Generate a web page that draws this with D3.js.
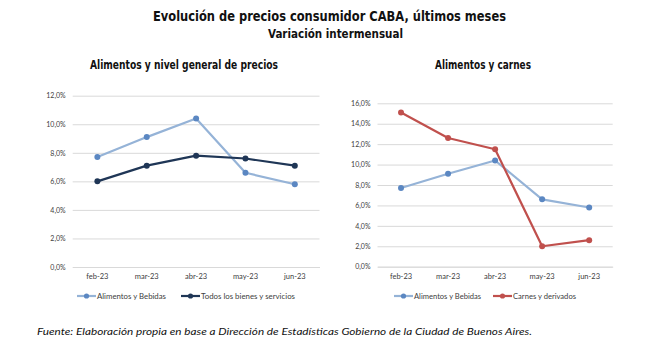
<!DOCTYPE html>
<html>
<head>
<meta charset="utf-8">
<script src="https://cdn.jsdelivr.net/npm/d3@7"></script>
<style>
  html, body { margin: 0; padding: 0; background: #fff; }
  svg { display: block; }
  text { font-family: Lato, "Liberation Sans", Arial, sans-serif; }
  .heading { font-family: "DejaVu Sans Condensed", "DejaVu Sans", sans-serif; font-weight: bold; fill: #111; }
</style>
</head>
<body>
<svg id="chart" width="653" height="345"></svg>
<script>
// Monthly price variation (%), CABA
const months = ["feb-23", "mar-23", "abr-23", "may-23", "jun-23"];
const alimentos = [7.7, 9.1, 10.4, 6.6, 5.8];
const nivelGeneral = [6.0, 7.1, 7.8, 7.6, 7.1];
const carnes = [15.1, 12.6, 11.5, 2.0, 2.6];
const ticksLeft = [0, 2, 4, 6, 8, 10, 12];
const ticksRight = [0, 2, 4, 6, 8, 10, 12, 14, 16];

const titleMain = "Evolución de precios consumidor CABA, últimos meses";
const titleSub = "Variación intermensual";
const titleLeft = "Alimentos y nivel general de precios";
const titleRight = "Alimentos y carnes";
const fuente = "Fuente: Elaboración propia en base a Dirección de Estadísticas Gobierno de la Ciudad de Buenos Aires.";

const COL_ALIM_LINE = "#95b3d7";
const COL_ALIM_MARK = "#5b87c2";
const COL_GEN = "#1f3656";
const COL_CARNES = "#c0504d";

const svg = d3.select("#chart");
const fmt = v => d3.format(".1f")(v).replace(".", ",") + "%";

function fitText(sel, width) {
  sel.attr("textLength", width).attr("lengthAdjust", "spacingAndGlyphs");
}

// Headings
svg.append("text").attr("class", "heading").attr("x", 329.5).attr("y", 20.5)
  .attr("text-anchor", "middle").attr("font-size", 13.5)
  .text(titleMain).call(fitText, 353);
svg.append("text").attr("class", "heading").attr("x", 335.5).attr("y", 37.5)
  .attr("text-anchor", "middle").attr("font-size", 12)
  .text(titleSub).call(fitText, 135);

function panel(opts) {
  const g = svg.append("g");
  const x = d3.scaleBand().domain(months).range(opts.xRange);
  const y = d3.scaleLinear().domain([0, d3.max(opts.ticks)]).range(opts.yRange);

  g.append("text").attr("class", "heading").attr("x", opts.titleX).attr("y", 68.5)
    .attr("text-anchor", "middle").attr("font-size", 11.5)
    .text(opts.title).call(fitText, opts.titleW);

  // Horizontal gridlines via the y axis
  const yAxis = g.append("g")
    .attr("transform", `translate(${opts.xRange[0]},0)`)
    .call(d3.axisLeft(y).tickValues(opts.ticks).tickFormat(fmt)
      .tickSize(-(opts.xRange[1] - opts.xRange[0])).tickPadding(7));
  yAxis.select(".domain").remove();
  yAxis.selectAll(".tick line").attr("stroke", "#d9d9d9").attr("stroke-width", 1);
  yAxis.selectAll(".tick text").attr("font-size", 7).attr("fill", "#404040")
    .attr("font-family", "Lato, 'Liberation Sans', sans-serif");

  // Category axis
  const xAxis = g.append("g")
    .attr("transform", `translate(0,${opts.yRange[0]})`)
    .call(d3.axisBottom(x).tickSize(0).tickPadding(7));
  xAxis.select(".domain").attr("stroke", "#d9d9d9");
  xAxis.selectAll(".tick text").attr("font-size", 7.5).attr("fill", "#404040")
    .attr("font-family", "Lato, 'Liberation Sans', sans-serif");

  const cx = m => x(m) + x.bandwidth() / 2;
  const line = d3.line().x((d, i) => cx(months[i])).y(d => y(d));

  opts.series.forEach(s => {
    g.append("path").datum(s.values).attr("d", line)
      .attr("fill", "none").attr("stroke", s.line).attr("stroke-width", 2.2)
      .attr("stroke-linejoin", "round");
    g.selectAll(null).data(s.values).enter().append("circle")
      .attr("cx", (d, i) => cx(months[i])).attr("cy", d => y(d))
      .attr("r", 3).attr("fill", s.mark);
  });

  // Legend
  const leg = g.append("g");
  opts.series.forEach((s, i) => {
    const lx = opts.legendX[i];
    const ly = 296;
    leg.append("line").attr("x1", lx).attr("x2", lx + 19).attr("y1", ly).attr("y2", ly)
      .attr("stroke", s.line).attr("stroke-width", 2.2);
    leg.append("circle").attr("cx", lx + 9.5).attr("cy", ly).attr("r", 2.6).attr("fill", s.mark);
    leg.append("text").attr("x", lx + 20).attr("y", ly + 2.6).attr("font-size", 7.5)
      .attr("fill", "#404040").text(s.name).call(fitText, s.textW);
  });
}

panel({
  xRange: [72.7, 319.5], yRange: [267, 95.7], ticks: ticksLeft,
  title: titleLeft, titleX: 184, titleW: 188,
  legendX: [77, 181],
  series: [
    { name: "Alimentos y Bebidas", values: alimentos, line: COL_ALIM_LINE, mark: COL_ALIM_MARK, textW: 69 },
    { name: "Todos los bienes y servicios", values: nivelGeneral, line: COL_GEN, mark: COL_GEN, textW: 94 }
  ]
});

panel({
  xRange: [377.5, 612.7], yRange: [266.7, 103.3], ticks: ticksRight,
  title: titleRight, titleX: 483, titleW: 96,
  legendX: [394, 493],
  series: [
    { name: "Alimentos y Bebidas", values: alimentos, line: COL_ALIM_LINE, mark: COL_ALIM_MARK, textW: 67 },
    { name: "Carnes y derivados", values: carnes, line: COL_CARNES, mark: COL_CARNES, textW: 63 }
  ]
});

// Source note
svg.append("text").attr("x", 37).attr("y", 334.5).attr("font-style", "italic")
  .attr("font-size", 10).attr("fill", "#111")
  .text(fuente).call(fitText, 495);
</script>
</body>
</html>
